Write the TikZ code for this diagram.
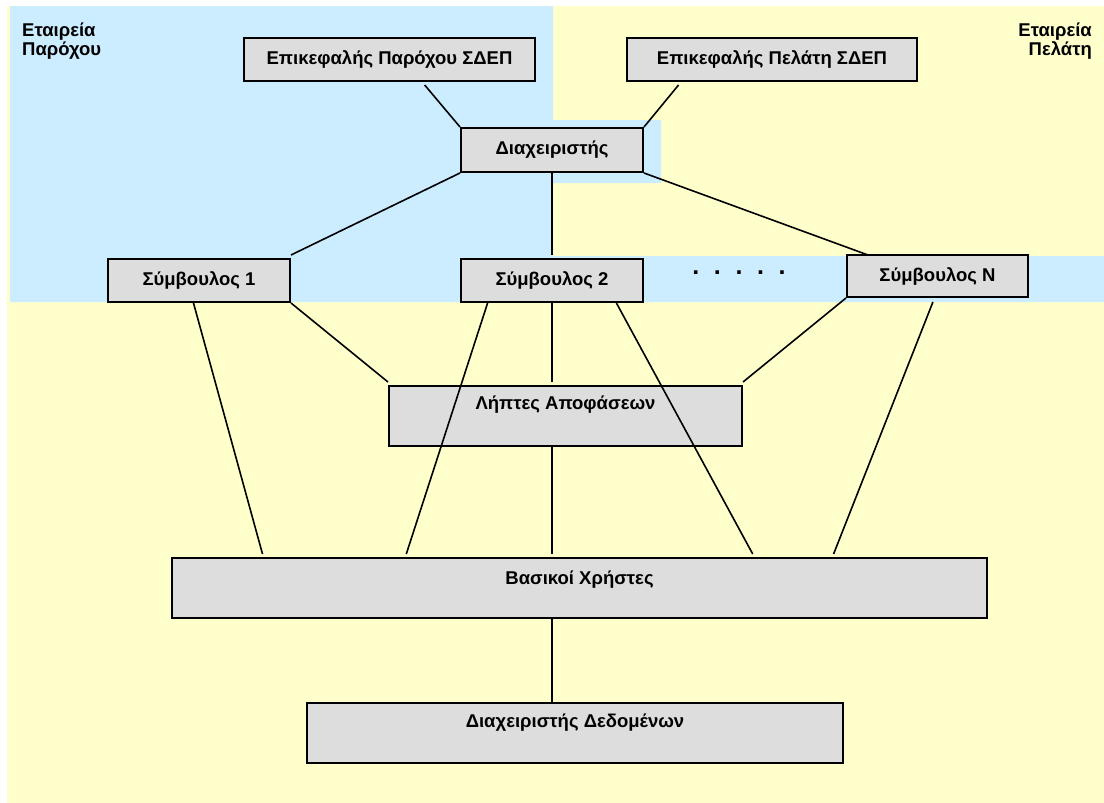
\documentclass[tikz,border=0pt]{standalone}
\usepackage{fontspec}
\setmainfont{Liberation Sans}
\usetikzlibrary{calc}
\definecolor{bluebg}{RGB}{204,236,255}
\definecolor{yellowbg}{RGB}{255,255,204}
\definecolor{boxgray}{RGB}{221,221,221}
\begin{document}
\begin{tikzpicture}[x=1pt,y=-1pt,
  txt/.style={font=\fontsize{18.5}{18.5}\selectfont\bfseries},
  box/.style={draw=black, line width=2pt, fill=boxgray, inner sep=0pt, txt},
  conn/.style={line width=1.6pt, draw=black},
  lbl/.style={txt, inner sep=0pt}]
\useasboundingbox (0,0) rectangle (1104,803);
\fill[yellowbg] (7,6) rectangle (1104,803);
\fill[bluebg] (10,6) -- (553,6) -- (553,120) -- (661,120) -- (661,183) -- (553,183) -- (553,256) -- (1104,256) -- (1104,302) -- (10,302) -- cycle;

\node[lbl, align=left, anchor=north west] (lp) at (22,23) {Εταιρεία\\Παρόχου};
\node[lbl, align=right, anchor=north east] (lc) at (1092,23) {Εταιρεία\\Πελάτη};

\node[box, minimum width=291pt, minimum height=43pt] (hp) at (389.5,59.5) {Επικεφαλής Παρόχου ΣΔΕΠ};
\node[box, minimum width=290pt, minimum height=43pt] (hc) at (772,59.5) {Επικεφαλής Πελάτη ΣΔΕΠ};
\node[box, minimum width=182pt, minimum height=44pt] (dm) at (552,150) {Διαχειριστής};
\node[box, minimum width=182pt, minimum height=43pt] (s1) at (199,280.5) {Σύμβουλος 1};
\node[box, minimum width=182pt, minimum height=43pt] (s2) at (552,280.5) {Σύμβουλος 2};
\node[box, minimum width=181pt, minimum height=42pt] (sn) at (937.5,276) {Σύμβουλος Ν};
\node[inner sep=0pt, font=\fontsize{25}{25}\selectfont\bfseries] (dots) at (739,273) {.\hspace{14.6pt}.\hspace{14.6pt}.\hspace{14.6pt}.\hspace{14.6pt}.};
\node[box, minimum width=353pt, minimum height=60pt, label={[lbl, yshift=11pt]center:Λήπτες Αποφάσεων}] (lr) at (565.5,416) {};
\node[box, minimum width=815pt, minimum height=60pt, label={[lbl, yshift=8pt]center:Βασικοί Χρήστες}] (bu) at (579.5,588) {};
\node[box, minimum width=536pt, minimum height=60pt, label={[lbl, yshift=10pt]center:Διαχειριστής Δεδομένων}] (dd) at (575,733) {};

% top connectors
\draw[conn] ($(hp.south west)!0.62!(hp.south east)+(0,3)$) -- (dm.north west);
\draw[conn] ($(hc.south west)!0.18!(hc.south east)+(0,3)$) -- (dm.north east);
\draw[conn] (dm.south west) -- ($(s1.north east)+(0,-3)$);
\draw[conn] (dm.south) -- ($(s2.north)+(0,-3)$);
\draw[conn] (dm.south east) -- ($(sn.north west)!0.12!(sn.north east)+(0,1)$);
% Σύμβουλος 1
\draw[conn] ($(s1.south west)!0.47!(s1.south east)$) -- ($(bu.north west)!0.112!(bu.north east)+(0,-3)$);
\draw[conn] (s1.south east) -- ($(lr.north west)+(0,-3)$);
% Σύμβουλος 2
\draw[conn] ($(s2.south west)!0.15!(s2.south east)$) -- ($(bu.north west)!0.288!(bu.north east)+(0,-3)$);
\draw[conn] (s2.south) -- ($(s2.south |- lr.north)+(0,-3)$);
\draw[conn] ($(s2.south west)!0.85!(s2.south east)$) -- ($(bu.north west)!0.712!(bu.north east)+(0,-3)$);
% Σύμβουλος Ν
\draw[conn] (sn.south west) -- ($(lr.north east)+(0,-3)$);
\draw[conn] ($(sn.south west)!0.475!(sn.south east)+(0,4)$) -- ($(bu.north west)!0.811!(bu.north east)+(0,-3)$);
% vertical chain
\draw[conn] (s2.south |- lr.south) -- ($(s2.south |- bu.north)+(0,-3)$);
\draw[conn] (s2.south |- bu.south) -- (s2.south |- dd.north);
\end{tikzpicture}
\end{document}
